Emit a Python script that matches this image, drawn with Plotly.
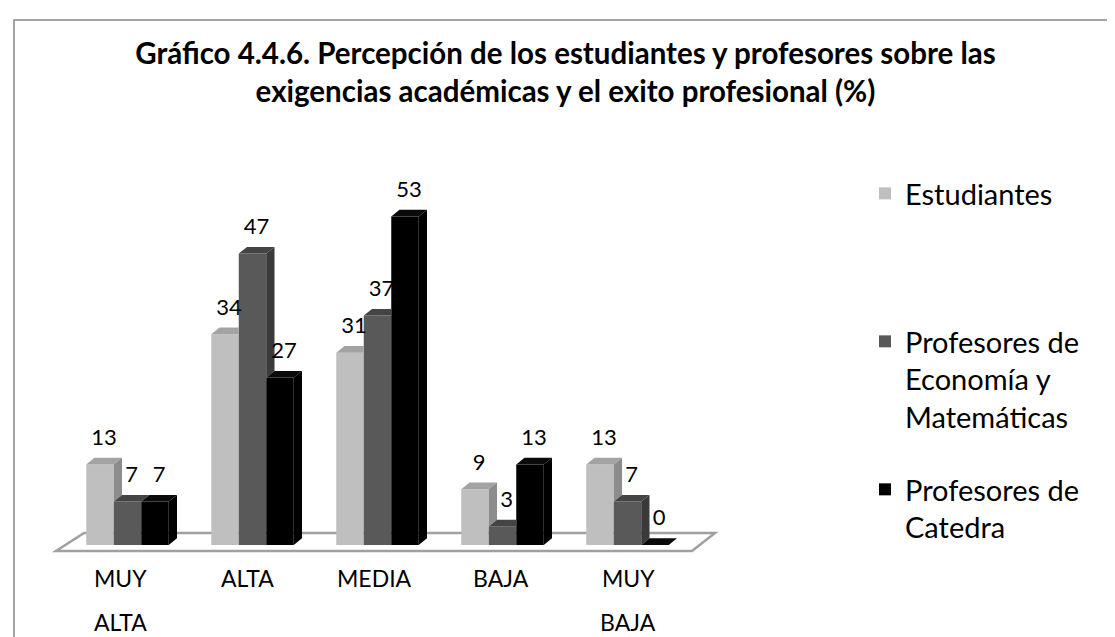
import plotly.graph_objects as go

# ---------------- data ----------------
categories = ["MUY ALTA", "ALTA", "MEDIA", "BAJA", "MUY BAJA"]
series_names = ["Estudiantes",
                "Profesores de<br>Economía y<br>Matemáticas",
                "Profesores de<br>Catedra"]
estudiantes = [13, 34, 31, 9, 13]
prof_economia = [7, 47, 37, 3, 7]
prof_catedra = [7, 27, 53, 13, 0]
series_values = [estudiantes, prof_economia, prof_catedra]

title_text = ("Gráfico 4.4.6. Percepción de los estudiantes y profesores sobre las"
              "<br>exigencias académicas y el exito profesional (%)")

# ---------------- style ----------------
FONT = "Lato"
front_colors = ["#BFBFBF", "#595959", "#000000"]
top_colors = ["#A3A3A3", "#444444", "#0A0A0A"]
side_colors = ["#8C8C8C", "#3A3A3A", "#000000"]
W = 0.22          # bar width (category units)
OFFS = [-0.33, -0.11, 0.11]
DX = 0.066        # depth shift x (category units)
DY = 1.08         # depth shift y (value units)

# pixel geometry helpers
L, R, T, B = 20, 395, 150, 87
PW, PH = 1115 - L - R, 637 - T - B
X_RANGE = [-0.796, 4.804]
Y_RANGE = [-2.097, 62.42]


def px_to_paper_x(px):
    return (px - L) / PW


def px_to_paper_y(py):
    return (T + PH - py) / PH


fig = go.Figure()
n = len(categories)
xs = list(range(n))

# front faces (real bars)
legend_ids = ["legend", "legend2", "legend3"]
for k, vals in enumerate(series_values):
    fig.add_trace(go.Bar(
        x=xs, y=vals, width=W, offset=OFFS[k],
        marker=dict(color=front_colors[k], line=dict(width=0)),
        name=series_names[k], legend=legend_ids[k],
        hoverinfo="x+y+name",
    ))

# 3D top / side faces derived from the same values
for k, vals in enumerate(series_values):
    tx, ty, sx, sy = [], [], [], []
    for i, v in enumerate(vals):
        xl = i + OFFS[k]
        xr = xl + W
        nxt = series_values[k + 1][i] if k + 1 < len(series_values) else None
        # top face
        if nxt is not None and nxt > v:
            tx += [xl, xr, xr, xl + DX, xl, None]
            ty += [v, v, v + DY, v + DY, v, None]
        else:
            tx += [xl, xr, xr + DX, xl + DX, xl, None]
            ty += [v, v, v + DY, v + DY, v, None]
        # side face
        if nxt is None:
            sx += [xr, xr + DX, xr + DX, xr, xr, None]
            sy += [0, DY, v + DY, v, 0, None]
        elif v > nxt:
            sx += [xr, xr + DX, xr + DX, xr, xr, None]
            sy += [nxt, nxt + DY, v + DY, v, nxt, None]
    fig.add_trace(go.Scatter(x=tx, y=ty, mode="lines", fill="toself",
                             fillcolor=top_colors[k], line=dict(width=0),
                             hoverinfo="skip", showlegend=False))
    if sx:
        fig.add_trace(go.Scatter(x=sx, y=sy, mode="lines", fill="toself",
                                 fillcolor=side_colors[k], line=dict(width=0),
                                 hoverinfo="skip", showlegend=False))

# data labels
for k, vals in enumerate(series_values):
    fig.add_trace(go.Scatter(
        x=[i + OFFS[k] + W / 2 + DX / 2 for i in xs],
        y=[v + DY + 1.2 for v in vals],
        text=[str(v) for v in vals], mode="text", textposition="top center",
        textfont=dict(family=FONT, size=22, color="#000000"),
        hoverinfo="skip", showlegend=False))

# floor of the 3D plot
fl_front = (-0.572, n - 1 + 0.516, -0.97)
fl_back = (-0.348, n - 1 + 0.70, 1.94)
floor_path = (f"M {fl_front[0]} {fl_front[2]} L {fl_front[1]} {fl_front[2]} "
              f"L {fl_back[1]} {fl_back[2]} L {fl_back[0]} {fl_back[2]} Z")
shapes = [
    dict(type="path", path=floor_path, xref="x", yref="y", layer="below",
         fillcolor="#FFFFFF", line=dict(color="#A0A0A0", width=2.5)),
    dict(type="rect", xref="paper", yref="paper",
         x0=px_to_paper_x(6), x1=px_to_paper_x(1130),
         y0=px_to_paper_y(660), y1=px_to_paper_y(12),
         line=dict(color="#868686", width=1.5), fillcolor="rgba(0,0,0,0)"),
]

# category labels (one annotation per line of text)
annotations = []
for i, cat in enumerate(categories):
    for j, word in enumerate(cat.split(" ")):
        annotations.append(dict(
            x=i * 1.016 - 0.06, xref="x", y=px_to_paper_y(570 + 44 * j),
            yref="paper", text=word, showarrow=False, xanchor="center",
            yanchor="middle",
            font=dict(family=FONT, size=23, color="#000000")))

leg_common = dict(xanchor="left", yanchor="top", valign="top",
                  bgcolor="rgba(0,0,0,0)",
                  font=dict(family=FONT, size=29, color="#000000"))
fig.update_layout(
    width=1115, height=637, autosize=False,
    margin=dict(l=L, r=R, t=T, b=B),
    paper_bgcolor="#FFFFFF", plot_bgcolor="#FFFFFF",
    barmode="overlay",
    title=dict(text=title_text, x=0.5, xanchor="center", xref="container",
               y=1 - 56 / 637, yanchor="top",
               font=dict(family=FONT, size=29.5, weight=700, color="#000000")),
    xaxis=dict(range=X_RANGE, showgrid=False, zeroline=False, showline=False,
               showticklabels=False, ticks="", fixedrange=True),
    yaxis=dict(range=Y_RANGE, showgrid=False, zeroline=False, showline=False,
               showticklabels=False, ticks="", fixedrange=True),
    legend=dict(x=px_to_paper_x(857), y=px_to_paper_y(160), **leg_common),
    legend2=dict(x=px_to_paper_x(857), y=px_to_paper_y(308), **leg_common),
    legend3=dict(x=px_to_paper_x(857), y=px_to_paper_y(456), **leg_common),
    shapes=shapes, annotations=annotations,
    showlegend=True,
)

fig.write_html("out.html")
